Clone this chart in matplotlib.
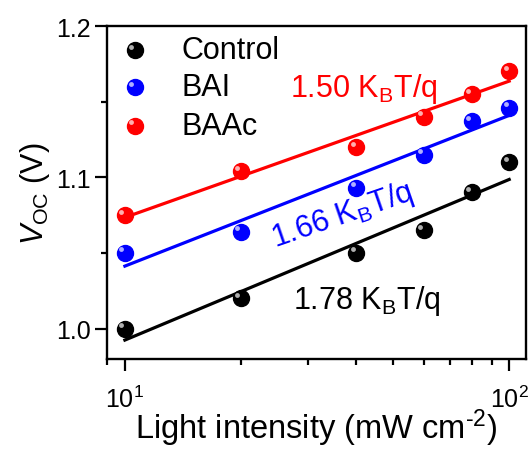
import numpy as np
import matplotlib
matplotlib.use('Agg')
import matplotlib.pyplot as plt
from matplotlib.transforms import offset_copy

plt.rcParams['font.family'] = ['Liberation Sans', 'DejaVu Sans']
plt.rcParams['mathtext.fontset'] = 'custom'
plt.rcParams['mathtext.rm'] = 'Liberation Sans'
plt.rcParams['mathtext.it'] = 'Liberation Sans:italic'

# light intensity (mW cm-2)
intensity = [10, 20, 40, 60, 80, 100]
# Voc values (V)
voc_control = [1.000, 1.020, 1.050, 1.065, 1.090, 1.110]
voc_bai = [1.050, 1.064, 1.093, 1.115, 1.137, 1.146]
voc_baac = [1.075, 1.104, 1.120, 1.140, 1.155, 1.170]

names = ['Control', 'BAI', 'BAAc']
colors = ['black', '#0000ff', '#ff0000']
hilite = ['#b0b0b0', '#b0b0ff', '#ffb0b0']

fig = plt.figure(figsize=(5.32, 4.52), dpi=100)
ax = fig.add_axes([0.201, 0.204, 0.788, 0.736])

hl = offset_copy(ax.transData, fig=fig, x=-2.5, y=2.5, units='points')
x = np.array(intensity, dtype=float)
for name, ys, c, h in zip(names, [voc_control, voc_bai, voc_baac], colors, hilite):
    k, b = np.polyfit(np.log10(x), ys, 1)
    xf = np.array([10, 100.0])
    ax.plot(xf, k * np.log10(xf) + b, color=c, lw=2.3, zorder=2)
    ax.plot(x, ys, 'o', ms=11.5, color=c, mec=c, zorder=3, label=name)
    ax.plot(x, ys, 'o', ms=3.5, color=h, mec='none', transform=hl, zorder=4)

ax.set_xscale('log')
ax.set_xlim(8.98, 110.7)
ax.set_ylim(0.98, 1.2)
ax.set_yticks([1.0, 1.1, 1.2])
ax.set_yticks([1.05, 1.15], minor=True)
ax.set_yticklabels(['1.0', '1.1', '1.2'])

for s in ax.spines.values():
    s.set_linewidth(1.7)
ax.tick_params(which='major', direction='out', length=8.5, width=1.6, labelsize=18, pad=3)
ax.tick_params(which='minor', direction='out', length=4.5, width=1.6)
ax.tick_params(axis='x', which='major', pad=11)

ax.set_xlabel('Light intensity (mW cm$^{\u2010 2}$)', fontsize=23.5, labelpad=-4)
ax.set_ylabel(r'$V_{\rm OC}$ (V)', fontsize=22, labelpad=3)

# legend drawn by hand to keep the sphere look
leg_y = [1.184, 1.1595, 1.134]
for name, c, h, yy in zip(names, colors, hilite, leg_y):
    ax.plot([10.6], [yy], 'o', ms=11.5, color=c, zorder=3, clip_on=False)
    ax.plot([10.6], [yy], 'o', ms=3.5, color=h, mec='none', transform=hl, zorder=4)
    ax.text(14.0, yy, name, fontsize=22, va='center', ha='left')

ax.text(26.9, 1.1538, '1.50 K$_{\\rm B}$T/q', color=colors[2], fontsize=22, va='baseline', ha='left')
ax.text(24.6, 1.0541, '1.66 K$_{\\rm B}$T/q', color=colors[1], fontsize=22, va='baseline', ha='left',
        rotation=19, rotation_mode='anchor')
ax.text(27.4, 1.0139, '1.78 K$_{\\rm B}$T/q', color=colors[0], fontsize=22, va='baseline', ha='left')

fig.savefig('out.png', dpi=100)
